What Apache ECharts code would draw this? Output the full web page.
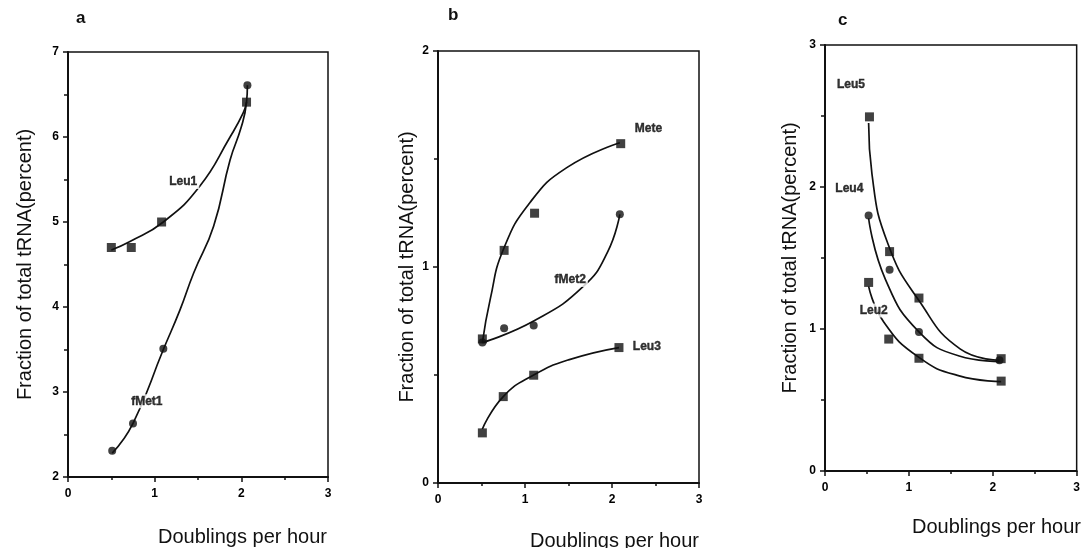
<!DOCTYPE html>
<html>
<head>
<meta charset="utf-8">
<script src="https://cdn.jsdelivr.net/npm/echarts@6/dist/echarts.min.js"></script>
<style>
  html, body { margin: 0; padding: 0; background: #fff; }
  #chart { width: 1083px; height: 548px; }
</style>
</head>
<body>
<div id="chart"></div>
<script>
// ---- data ----
const xTicks = [0, 1, 2, 3]

// panel a
const leu1Pts = [[0.5, 4.7], [0.73, 4.7], [1.08, 5.0], [2.06, 6.41]]
const fmet1Pts = [[0.51, 2.31], [0.75, 2.63], [1.1, 3.51], [2.07, 6.61]]
const leu1Curve = [[0.5, 4.67], [0.715, 4.77], [1.1, 5.0], [1.52, 5.42], [1.87, 6.0], [2.02, 6.28], [2.06, 6.41]]
const fmet1Curve = [[0.51, 2.28], [0.75, 2.63], [1.1, 3.5], [1.29, 3.96], [1.45, 4.4], [1.68, 4.95], [1.87, 5.73], [2.0, 6.12], [2.06, 6.41], [2.07, 6.61]]
const notesA = [['Leu1', 1.33, 5.47], ['fMet1', 0.91, 2.89]]

// panel b
const metePts = [[0.51, 0.667], [0.76, 1.077], [1.11, 1.249], [2.1, 1.571]]
const fmet2Pts = [[0.51, 0.651], [0.76, 0.716], [1.1, 0.729], [2.09, 1.244]]
const leu3Pts = [[0.51, 0.232], [0.75, 0.4], [1.1, 0.499], [2.08, 0.627]]
const meteCurve = [[0.51, 0.65], [0.6, 0.85], [0.75, 1.08], [1.06, 1.3], [1.48, 1.46], [2.09, 1.575]]
const fmet2Curve = [[0.51, 0.65], [1.1, 0.75], [1.67, 0.91], [1.95, 1.07], [2.09, 1.244]]
const leu3Curve = [[0.51, 0.25], [0.75, 0.4], [1.1, 0.5], [1.5, 0.57], [2.08, 0.627]]
const notesB = [['Mete', 2.42, 1.64], ['fMet2', 1.52, 0.94], ['Leu3', 2.4, 0.63]]

// panel c
const leu5Pts = [[0.53, 2.494], [0.77, 1.545], [1.12, 1.218], [2.1, 0.791]]
const leu4Pts = [[0.52, 1.8], [0.77, 1.417], [1.12, 0.979], [2.08, 0.78]]
const leu2Pts = [[0.52, 1.328], [0.76, 0.929], [1.12, 0.794], [2.1, 0.633]]
const leu5Curve = [[0.52, 2.45], [0.56, 2.09], [0.75, 1.6], [1.12, 1.2], [1.61, 0.86], [2.08, 0.78]]
const leu4Curve = [[0.52, 1.78], [0.72, 1.35], [1.12, 0.98], [1.6, 0.81], [2.08, 0.77]]
const leu2Curve = [[0.52, 1.3], [0.7, 1.05], [1.12, 0.8], [1.6, 0.67], [2.1, 0.63]]
const notesC = [['Leu5', 0.31, 2.72], ['Leu4', 0.29, 1.99], ['Leu2', 0.58, 1.13]]

const yRanges = [[2, 7], [0, 2], [0, 3]]

// ---- helpers ----
const ink = '#111'
const font = 'Liberation Sans'

const curve = (gi, data) => ({
  type: 'line', xAxisIndex: gi, yAxisIndex: gi, data,
  smooth: 0.5, symbol: 'none',
  lineStyle: { color: ink, width: 1.7 }, z: 2, silent: true
})

const points = (gi, data, sym) => ({
  type: 'scatter', xAxisIndex: gi, yAxisIndex: gi, data,
  symbol: sym, symbolSize: sym === 'rect' ? 9 : 8,
  itemStyle: { color: ink }, z: 4
})

const notes = (gi, list) => ({
  type: 'scatter', xAxisIndex: gi, yAxisIndex: gi,
  data: list.map(n => ({ name: n[0], value: [n[1], n[2]] })),
  symbolSize: 1, itemStyle: { color: 'rgba(0,0,0,0)' },
  label: {
    show: true, position: 'inside', formatter: '{b}',
    fontFamily: font, fontWeight: 'bold', fontSize: 12, color: '#000',
    textBorderColor: '#000', textBorderWidth: 0.4,
    backgroundColor: '#fff', padding: [1, 2]
  },
  z: 6
})

const grids = [
  { left: 68, top: 52, width: 260, height: 425 },
  { left: 438, top: 51, width: 261, height: 432 },
  { left: 825, top: 45, width: 259, height: 426 }
].map(g => ({ ...g, show: true, borderColor: ink, borderWidth: 1.5 }))

const tickFont = { fontFamily: font, fontWeight: 'bold', fontSize: 12, color: '#000' }

const xAxes = grids.map((g, i) => ({
  gridIndex: i, type: 'value', min: xTicks[0], max: xTicks[xTicks.length - 1], interval: 1,
  axisLine: { show: true, onZero: false, lineStyle: { color: ink, width: 2 } },
  axisTick: { show: true, length: 5, lineStyle: { color: ink, width: 1.5 } },
  minorTick: { show: true, splitNumber: 2, length: 3, lineStyle: { color: ink, width: 1.5 } },
  axisLabel: { ...tickFont, margin: 11 },
  splitLine: { show: false }
}))

const yGaps = [33, 21, 25]
const yAxes = grids.map((g, i) => ({
  gridIndex: i, type: 'value', min: yRanges[i][0], max: yRanges[i][1], interval: 1,
  name: 'Fraction of total tRNA(percent)', nameLocation: 'middle', nameGap: yGaps[i],
  nameTextStyle: { fontFamily: font, fontSize: 20, color: ink },
  axisLine: { show: true, onZero: false, lineStyle: { color: ink, width: 2 } },
  axisTick: { show: true, length: 5, lineStyle: { color: ink, width: 1.5 } },
  minorTick: { show: true, splitNumber: 2, length: 4, lineStyle: { color: ink, width: 1.5 } },
  axisLabel: { ...tickFont, margin: 9 },
  splitLine: { show: false }
}))

const text = (t, left, top, f) => ({
  type: 'text', left, top, style: { text: t, font: f, fill: ink }, z: 10
})

const option = {
  animation: false,
  backgroundColor: '#fff',
  grid: grids,
  xAxis: xAxes,
  yAxis: yAxes,
  graphic: [
    text('a', 76, 10, 'bold 17px ' + font),
    text('b', 448, 7, 'bold 17px ' + font),
    text('c', 838, 12, 'bold 17px ' + font),
    text('Doublings per hour', 158, 527, '20px ' + font),
    text('Doublings per hour', 530, 531, '20px ' + font),
    text('Doublings per hour', 912, 517, '20px ' + font)
  ],
  series: [
    curve(0, leu1Curve), curve(0, fmet1Curve),
    points(0, leu1Pts, 'rect'), points(0, fmet1Pts, 'circle'),
    notes(0, notesA),

    curve(1, meteCurve), curve(1, fmet2Curve), curve(1, leu3Curve),
    points(1, metePts, 'rect'), points(1, fmet2Pts, 'circle'), points(1, leu3Pts, 'rect'),
    notes(1, notesB),

    curve(2, leu5Curve), curve(2, leu4Curve), curve(2, leu2Curve),
    points(2, leu4Pts, 'circle'), points(2, leu5Pts, 'rect'), points(2, leu2Pts, 'rect'),
    notes(2, notesC)
  ]
}

const chart = echarts.init(document.getElementById('chart'))
chart.setOption(option)
</script>
</body>
</html>
